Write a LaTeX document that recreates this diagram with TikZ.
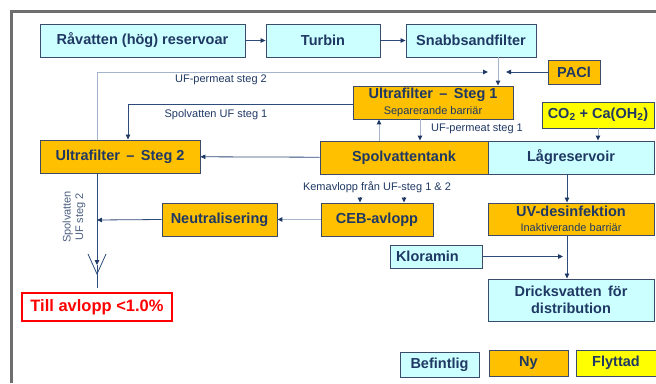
\documentclass[tikz,border=0pt]{standalone}
\usepackage{fontspec}
\setmainfont{Liberation Sans}
\usetikzlibrary{arrows.meta}

\definecolor{navy}{RGB}{31,56,100}
\definecolor{edgegray}{RGB}{60,75,105}
\definecolor{pipeblue}{RGB}{45,75,120}
\definecolor{paleblue}{RGB}{165,180,205}
\definecolor{cyanfill}{RGB}{204,255,255}
\definecolor{orangefill}{RGB}{255,192,0}
\definecolor{yellowfill}{RGB}{255,255,0}
\definecolor{framegray}{RGB}{110,110,110}

\newcommand{\unittxt}{\fontsize{14.5}{17.5}\selectfont\bfseries}
\newcommand{\notetxt}{\fontsize{11}{12.5}\selectfont\mdseries}

\tikzset{
  unit/.style={draw=edgegray, line width=0.9pt, text=navy, font=\unittxt, inner sep=0pt, align=center},
  befintlig/.style={unit, fill=cyanfill},
  ny/.style={unit, fill=orangefill},
  flyttad/.style={unit, fill=yellowfill},
  flow/.style={draw=pipeblue, line width=0.8pt},
  paleflow/.style={draw=paleblue, line width=1pt},
  arr/.style={-{Triangle[length=5pt,width=4.5pt,color=navy]}},
  note/.style={text=navy, font=\notetxt, inner sep=0pt, align=center}
}

\begin{document}
\begin{tikzpicture}[x=1pt,y=-1pt]
	\useasboundingbox (0,0) rectangle (656,383);
	
	% frame
	\draw [framegray, line width=2.6pt] (11.5,383) -- (11.5,11.5) -- (656,11.5);
	
	% units
	\node [befintlig, minimum width=205, minimum height=33] (rav) at (142.5,40.5) {Råvatten (hög) reservoar};
	\node [befintlig, minimum width=114, minimum height=33] (turbin) at (323,40.5) {Turbin};
	\node [befintlig, minimum width=130, minimum height=33] (sand) at (471,40.5) {Snabbsandfilter};
	\node [ny, minimum width=52, minimum height=24] (paci) at (574,72) {PACl};
	\node [ny, minimum width=160, minimum height=33] (uf1) at (433,102.5) {Ultrafilter\, – \,Steg 1\\[-1.5pt]{\notetxt Separerande barriär}};
	\node [flyttad, minimum width=112, minimum height=26] (co2) at (598,115) {CO\textsubscript{2} + Ca(OH\textsubscript{2})};
	\node [ny, minimum width=160, minimum height=33] (uf2) at (120,156.5) {Ultrafilter\, – \,Steg 2};
	\node [ny, minimum width=168, minimum height=33] (svt) at (404,157.5) {Spolvattentank};
	\node [befintlig, minimum width=166, minimum height=33] (lag) at (571,157.5) {Lågreservoir};
	\node [ny, minimum width=115, minimum height=33] (neu) at (219.5,219.5) {Neutralisering};
	\node [ny, minimum width=112, minimum height=33] (ceb) at (377,219.5) {CEB-avlopp};
	\node [ny, minimum width=166, minimum height=32] (uv) at (571,219) {UV-desinfektion\\[-2pt]{\notetxt Inaktiverande barriär}};
	\node [befintlig, minimum width=92, minimum height=23, text width=80, align=left] (klo) at (436,256.5) {Kloramin};
	\node [befintlig, minimum width=166, minimum height=42] (drk) at (571,300) {Dricksvatten\, för\\distribution};
	\node [draw=red, line width=2.2pt, text=red, font=\fontsize{16.5}{18}\selectfont\bfseries, inner sep=0pt, minimum width=150, minimum height=28] (avl) at (97,307) {Till avlopp <1.0\%};
	
	% legend
	\node [befintlig, minimum width=79, minimum height=25] (legbef) at (439.5,364.5) {Befintlig};
	\node [ny, minimum width=79, minimum height=26] (legny) at (528.5,363) {Ny};
	\node [flyttad, minimum width=80, minimum height=26] (legfly) at (616,363) {Flyttad};
	
	% helper points
	\coordinate (mix) at (498,72);
	\coordinate (mixl) at (488,72);
	\coordinate (mixr) at (506,72);
	\coordinate (perm2) at (97,72);
	\coordinate (rinse1) at (128,104);
	\coordinate (ret1) at (379,0);
	\coordinate (perm1) at (420,0);
	\coordinate (chem1) at (360,197);
	\coordinate (chem2) at (404,197);
	\coordinate (drain) at (97,220);
	\coordinate (vtip) at (97,265);
	\coordinate (drainend) at (97,288);
	\coordinate (drop) at (567,0);
	\coordinate (kloend) at (563,256.5);
	
	% main line
	\draw [flow,arr] (rav) -- (turbin);
	\draw [flow,arr] (turbin) -- (sand);
	\draw [paleflow,arr] (sand.south -| mix) -- (uf1.north -| mix);
	\draw [flow,arr] (paci) -- (mixr);
	
	% permeat and rinse water
	\draw [paleflow,arr] (uf2.north -| perm2) |- (mixl);
	\node [note] (lblperm2) at (221,80) {UF-permeat steg 2};
	\draw [flow,arr] (uf1.west |- rinse1) -| (uf2.north -| rinse1);
	\node [note] (lblrinse1) at (216,115) {Spolvatten UF steg 1};
	\draw [paleflow,arr] (svt.north -| ret1) -- (uf1.south -| ret1);
	\draw [paleflow,arr] (uf1.south -| perm1) -- (svt.north -| perm1);
	\node [note] (lblperm1) at (477,129) {UF-permeat steg 1};
	\draw [flow,arr] (svt) -- (uf2);
	
	% chemical waste
	\node [note] (lblchem) at (377,187) {Kemavlopp från UF-steg 1 \& 2};
	\draw [flow,arr] (chem1) -- (ceb.north -| chem1);
	\draw [flow,arr] (chem2) -- (ceb.north -| chem2);
	\draw [paleflow,arr] (ceb) -- (neu);
	\draw [flow,arr] (neu.west) -- (drain);
	
	% drain
	\draw [flow,arr] (uf2.south -| drain) -- (vtip);
	\draw [flow] (vtip) -- (drainend);
	\draw [flow] (88,254) -- (97,274) -- (106,254);
	\node [note, rotate=90, text=navy!80] (lblrinse2) at (74,217) {Spolvatten\\UF steg 2};
	
	% clean water
	\draw [paleflow,arr] (co2) -- (co2 |- lag.north);
	\draw [flow,arr] (lag.south -| drop) -- (uv.north -| drop);
	\draw [flow,arr] (uv.south -| drop) -- (drk.north -| drop);
	\draw [flow,arr] (klo) -- (kloend);
\end{tikzpicture}
\end{document}
